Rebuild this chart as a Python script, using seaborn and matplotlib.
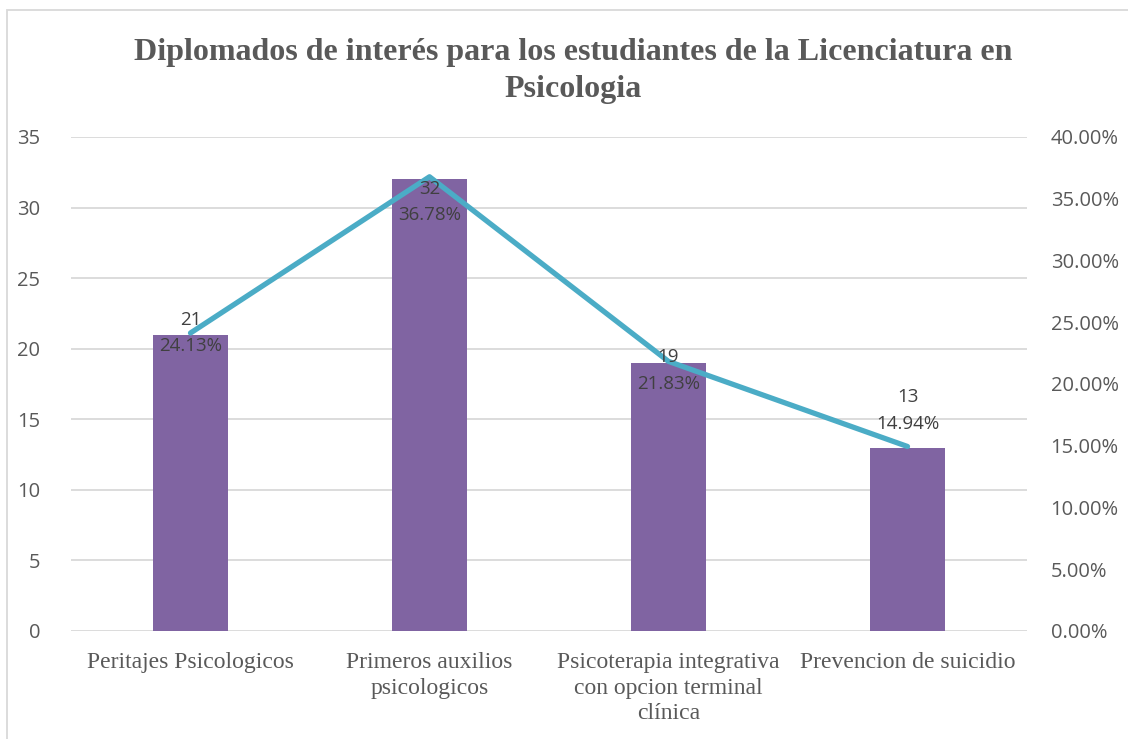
import numpy as np
import pandas as pd
import matplotlib
matplotlib.use("Agg")
import matplotlib.pyplot as plt
import seaborn as sns
from matplotlib.patches import Rectangle

# data
categories = ["Peritajes Psicologicos", "Primeros auxilios\npsicologicos",
              "Psicoterapia integrativa\ncon opcion terminal\nclínica", "Prevencion de suicidio"]
counts = [21, 32, 19, 13]
percents = [0.2413, 0.3678, 0.2183, 0.1494]
pct_labels = ["24.13%", "36.78%", "21.83%", "14.94%"]

# where each data label sits relative to its line point (points)
label_offsets = [(0, 0), (0, -18), (0, -6.5), (0, 26)]

bar_color = "#8064A2"
line_color = "#4BACC6"
grid_color = "#D9D9D9"
text_color = "#595959"
label_color = "#404040"
sans = ["Open Sans", "DejaVu Sans"]
serif = ["Liberation Serif", "DejaVu Serif"]

sns.set_style("white")
plt.rcParams["font.family"] = sans

df = pd.DataFrame({"cat": categories, "count": counts})

fig = plt.figure(figsize=(11.28, 7.39), dpi=100)
ax = fig.add_axes([71 / 1128, 1 - 631 / 739, (1027 - 71) / 1128, (631 - 137) / 739])

sns.barplot(data=df, x="cat", y="count", color=bar_color, width=0.31,
            saturation=1, ax=ax, zorder=3, edgecolor=bar_color, linewidth=0)
ax.set_ylim(0, 35)
ax.set_yticks(np.arange(0, 36, 5))
ax.set_xlim(-0.5, 3.5)
ax.yaxis.grid(True, color=grid_color, lw=1.3, zorder=0)
ax.set_axisbelow(True)
for s in ax.spines.values():
    s.set_visible(False)
ax.set_xlabel("")
ax.set_ylabel("")
ax.tick_params(axis="y", length=0, pad=22, labelsize=14.5, labelcolor=text_color)
ax.tick_params(axis="x", length=0, pad=15)
ax.set_xticks(range(len(categories)))
ax.set_xticklabels(categories, family=serif, fontsize=17, color=text_color,
                   linespacing=1.3, va="top")

ax2 = ax.twinx()
sns.lineplot(x=np.arange(len(percents)), y=percents, ax=ax2, color=line_color,
             lw=3.8, zorder=4)
ax2.set_ylim(0, 0.40)
ax2.set_yticks(np.arange(0, 0.401, 0.05))
ax2.set_yticklabels([f"{v * 100:.2f}%" for v in np.arange(0, 0.401, 0.05)])
ax2.tick_params(axis="y", length=0, pad=17, labelsize=14.5, labelcolor=text_color)
for s in ax2.spines.values():
    s.set_visible(False)
ax2.set_xlim(-0.5, 3.5)

for i, (c, p) in enumerate(zip(counts, pct_labels)):
    ax2.annotate(f"{c}\n{p}", (i, percents[i]), xytext=label_offsets[i],
                 textcoords="offset points", ha="center", va="center",
                 fontsize=13.5, color=label_color, linespacing=1.6, zorder=5)

fig.text(573 / 1128, 1 - 71 / 739,
         "Diplomados de interés para los estudiantes de la Licenciatura en\nPsicologia",
         ha="center", va="center", family=serif, fontsize=23, fontweight="bold",
         color=text_color, linespacing=1.32)

fig.patches.append(Rectangle((7 / 1128, -0.1), 1.2, 1 - 10 / 739 + 0.1,
                             transform=fig.transFigure, fill=False,
                             edgecolor=grid_color, lw=1.3))

fig.savefig("out.png", dpi=100)
